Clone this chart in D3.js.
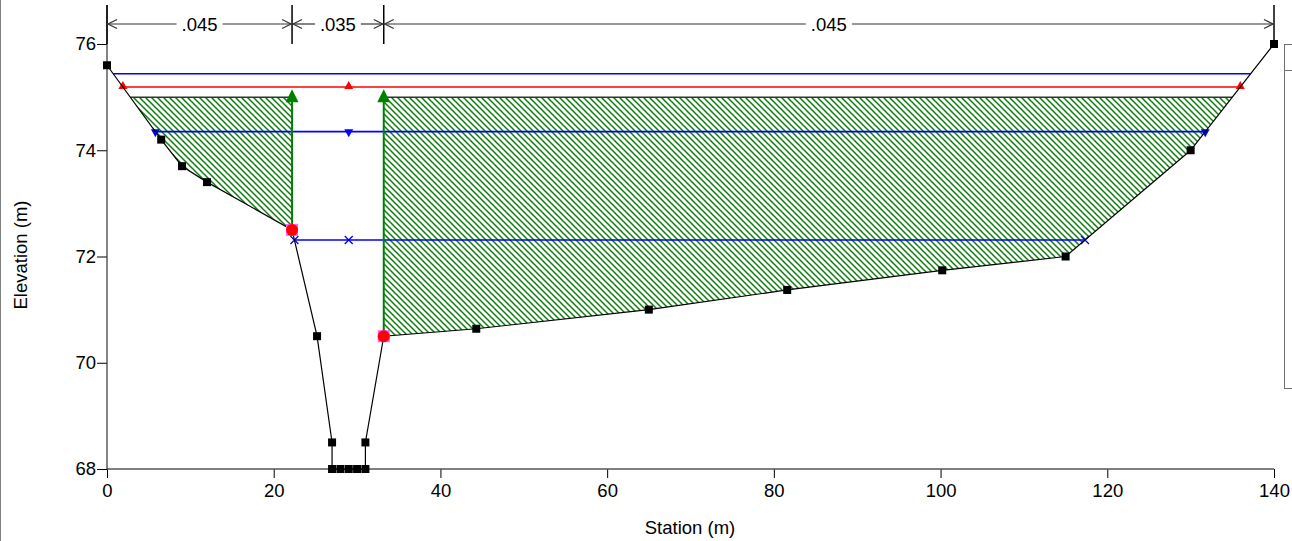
<!DOCTYPE html>
<html><head><meta charset="utf-8">
<script src="https://cdn.jsdelivr.net/npm/d3@7"></script>
<style>
body{margin:0;background:#fff}
text{font-family:"Liberation Sans",Arial,sans-serif}
</style>
</head><body>
<svg id="c" width="1292" height="541"></svg>
<script>
// ---- data ----
const groundStation=[0,6.5,9,12,22.2,25.2,27,27,28,29,30,31,31,33.2,44.3,65,81.6,100.2,115,130,140];
const groundElev=[75.6,74.2,73.7,73.4,72.5,70.5,68.5,68,68,68,68,68,68.5,70.5,70.64,71.0,71.37,71.74,72.0,74.0,76.0];
const bankStations=[22.2,33.2];
const nBreaks=[0,22.2,33.2,140];
const nValues=[".045",".035",".045"];
const ineffElev=75.0;
const ineffLeftEnd=22.2;
const ineffRightStart=33.2;
const wsElev=[75.44,75.19,74.35,72.31];
const wsColor=["#0000ff","#ff0000","#0000ff","#0000ff"];
const wsMarker=["none","triUp","triDown","cross"];
const wsMidStation=29.0;
const xMajor=[0,20,40,60,80,100,120,140];
const yMajor=[68,70,72,74,76];

// ---- layout ----
const svg=d3.select("#c");
const x=d3.scaleLinear().domain([0,140]).range([107,1274]);
const y=d3.scaleLinear().domain([68,76]).range([469,44]);
const plotTop=5, dimY=24, fs=18.5;
const ground=groundStation.map((s,i)=>({s:s,e:groundElev[i]}));

// frame / legend box
svg.append("line").attr("x1",0.5).attr("x2",0.5).attr("y1",0).attr("y2",541).attr("stroke","#808080");
svg.append("rect").attr("x",1284.5).attr("y",44.5).attr("width",40).attr("height",344).attr("fill","none").attr("stroke","#707070");
svg.append("line").attr("x1",1284.5).attr("x2",1292).attr("y1",70.5).attr("y2",70.5).attr("stroke","#707070");

// hatch pattern
const defs=svg.append("defs");
const pat=defs.append("pattern").attr("id","hatch").attr("patternUnits","userSpaceOnUse").attr("width",6).attr("height",6);
pat.append("path").attr("d","M-1,-1 L7,7 M-1,5 L1,7 M5,-1 L7,1").attr("stroke","#0a800a").attr("stroke-width",1.5);

function interp(a,b,level){return a.s+(level-a.e)/(b.e-a.e)*(b.s-a.s);}
function leftCross(level){
  for(let i=0;i<ground.length-1;i++){
    if(ground[i].e>=level&&ground[i+1].e<level) return interp(ground[i],ground[i+1],level);
  }
  return ground[0].s;
}
function rightCross(level){
  for(let i=ground.length-1;i>0;i--){
    if(ground[i].e>=level&&ground[i-1].e<level) return interp(ground[i-1],ground[i],level);
  }
  return ground[ground.length-1].s;
}

// ineffective areas
const lx=leftCross(ineffElev), rx=rightCross(ineffElev);
const leftPoly=[[lx,ineffElev]].concat(ground.filter(g=>g.s>lx&&g.s<=ineffLeftEnd).map(g=>[g.s,g.e])).concat([[ineffLeftEnd,ineffElev]]);
const rightPoly=[[ineffRightStart,ineffElev]].concat(ground.filter(g=>g.s>=ineffRightStart&&g.s<rx).map(g=>[g.s,g.e])).concat([[rx,ineffElev]]);
const lineGen=d3.line().x(d=>x(d[0])).y(d=>y(d[1]));
[leftPoly,rightPoly].forEach(p=>{
  svg.append("path").attr("d",lineGen(p)+"Z").attr("fill","url(#hatch)").attr("stroke","none");
});
svg.append("line").attr("x1",x(lx)).attr("x2",x(ineffLeftEnd)).attr("y1",y(ineffElev)).attr("y2",y(ineffElev)).attr("stroke","#333").attr("stroke-width",1.5);
svg.append("line").attr("x1",x(ineffRightStart)).attr("x2",x(rx)).attr("y1",y(ineffElev)).attr("y2",y(ineffElev)).attr("stroke","#333").attr("stroke-width",1.5);

// axes
const gx=svg.append("g").attr("transform","translate(0,469)");
gx.call(d3.axisBottom(x).tickValues(d3.range(0,141,4)).tickSize(5).tickFormat(""));
gx.call(d3.axisBottom(x).tickValues(xMajor).tickSize(9).tickPadding(6).tickFormat(d3.format("d")));
gx.selectAll(".domain").remove();
gx.selectAll("text").attr("font-size",fs).attr("fill","#000").attr("font-family","Liberation Sans, Arial, sans-serif");
const gy=svg.append("g").attr("transform","translate(107,0)");
gy.call(d3.axisLeft(y).tickValues(d3.range(68,76.01,0.4)).tickSize(6).tickFormat(""));
gy.call(d3.axisLeft(y).tickValues(yMajor).tickSize(10).tickPadding(1).tickFormat(d3.format("d")));
gy.selectAll(".domain").remove();
gy.selectAll("text").attr("font-size",fs).attr("fill","#000").attr("font-family","Liberation Sans, Arial, sans-serif");
svg.append("line").attr("x1",107).attr("x2",1274).attr("y1",469).attr("y2",469).attr("stroke","#555").attr("stroke-width",1.5);
svg.append("line").attr("x1",107).attr("x2",107).attr("y1",plotTop).attr("y2",469).attr("stroke","#333").attr("stroke-width",1.2);

svg.append("text").attr("x",690).attr("y",534).attr("text-anchor","middle").attr("font-size",fs).text("Station (m)");
svg.append("text").attr("transform","translate(27,255) rotate(-90)").attr("text-anchor","middle").attr("font-size",fs).text("Elevation (m)");

// Manning's n dimension annotations
nBreaks.forEach(b=>{
  svg.append("line").attr("x1",x(b)).attr("x2",x(b)).attr("y1",plotTop).attr("y2",y(76)).attr("stroke","#000").attr("stroke-width",1.5);
});
nValues.forEach((v,i)=>{
  const x0=x(nBreaks[i]), x1=x(nBreaks[i+1]), xm=(x0+x1)/2;
  const t=svg.append("text").attr("x",xm).attr("y",dimY+6.5).attr("text-anchor","middle").attr("font-size",fs).text(v);
  const w=t.node().getComputedTextLength();
  const g=svg.append("g").attr("stroke","#333").attr("stroke-width",1.2).attr("fill","none");
  g.append("line").attr("x1",x0).attr("x2",xm-w/2-5).attr("y1",dimY).attr("y2",dimY);
  g.append("line").attr("x1",xm+w/2+5).attr("x2",x1).attr("y1",dimY).attr("y2",dimY);
  g.append("path").attr("d",`M${x0+10},${dimY-4.5}L${x0+1},${dimY}L${x0+10},${dimY+4.5}`);
  g.append("path").attr("d",`M${x1-10},${dimY-4.5}L${x1-1},${dimY}L${x1-10},${dimY+4.5}`);
});

// water surface lines
wsElev.forEach((lev,i)=>{
  const a=leftCross(lev), b=rightCross(lev), c=wsColor[i];
  svg.append("line").attr("x1",x(a)).attr("x2",x(b)).attr("y1",y(lev)).attr("y2",y(lev)).attr("stroke",c).attr("stroke-width",1.6);
  [a,wsMidStation,b].forEach(s=>{
    const px=x(s), py=y(lev);
    if(wsMarker[i]==="triUp") svg.append("path").attr("d",`M${px-4.5},${py+2}L${px+4.5},${py+2}L${px},${py-6}Z`).attr("fill",c);
    else if(wsMarker[i]==="triDown") svg.append("path").attr("d",`M${px-4.5},${py-2.5}L${px+4.5},${py-2.5}L${px},${py+5.5}Z`).attr("fill",c);
    else if(wsMarker[i]==="cross") svg.append("path").attr("d",`M${px-4},${py-4}L${px+4},${py+4}M${px-4},${py+4}L${px+4},${py-4}`).attr("stroke",c).attr("stroke-width",1.3);
  });
});

// ineffective flow limits (green)
bankStations.forEach(s=>{
  const g=ground.find(d=>d.s===s);
  svg.append("line").attr("x1",x(s)).attr("x2",x(s)).attr("y1",y(ineffElev)).attr("y2",y(g.e)).attr("stroke","#008000").attr("stroke-width",2);
});

// ground line and points
svg.append("path").attr("d",d3.line().x(d=>x(d.s)).y(d=>y(d.e))(ground)).attr("fill","none").attr("stroke","#000").attr("stroke-width",1.2);
svg.selectAll(".gp").data(ground).enter().append("rect").attr("class","gp")
  .attr("x",d=>x(d.s)-4).attr("y",d=>y(d.e)-4).attr("width",8).attr("height",8).attr("fill","#000");

// green triangles
bankStations.forEach(s=>{
  const px=x(s), py=y(ineffElev);
  svg.append("path").attr("d",`M${px-6.5},${py+5}L${px+6.5},${py+5}L${px},${py-8}Z`).attr("fill","#008000");
});

// bank stations
bankStations.forEach(s=>{
  const g=ground.find(d=>d.s===s);
  svg.append("rect").attr("x",x(s)-6).attr("y",y(g.e)-6).attr("width",12).attr("height",12).attr("fill","#ff60ff");
  svg.append("circle").attr("cx",x(s)).attr("cy",y(g.e)).attr("r",6).attr("fill","#ff0000");
});
</script>
</body></html>
